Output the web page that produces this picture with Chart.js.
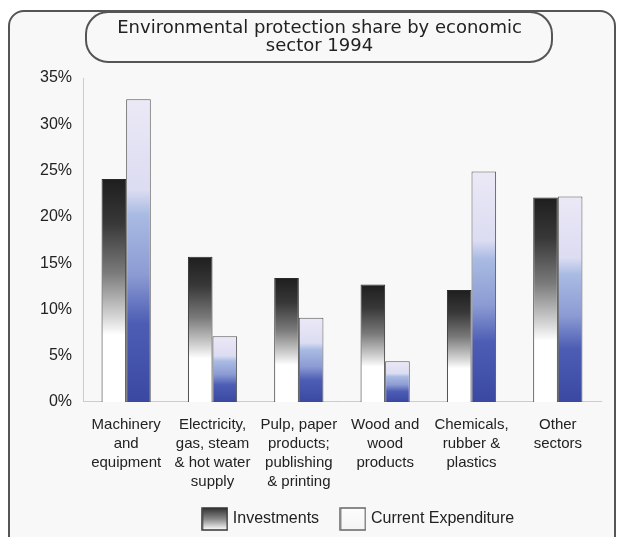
<!DOCTYPE html>
<html><head><meta charset="utf-8">
<script src="https://cdn.jsdelivr.net/npm/chart.js@4/dist/chart.umd.min.js"></script>
<style>
html,body{margin:0;padding:0;background:#fff;width:618px;height:537px;overflow:hidden;}
#frame{position:absolute;left:8px;top:10px;width:604px;height:560px;border:2px solid #555;border-radius:16px;background:#f8f8f8;}
#c{position:absolute;left:0;top:0;}
</style></head>
<body>
<div id="frame"></div>
<canvas id="c" width="618" height="537"></canvas>
<script>
const categories = [
  ["Machinery","and","equipment"],
  ["Electricity,","gas, steam","& hot water","supply"],
  ["Pulp, paper","products;","publishing","& printing"],
  ["Wood and","wood","products"],
  ["Chemicals,","rubber &","plastics"],
  ["Other","sectors"]
];
const investments = [24.1, 15.7, 13.4, 12.7, 12.1, 22.1];
const currentExpenditure = [32.7, 7.1, 9.1, 4.4, 24.9, 22.2];
const yTicks = [0, 5, 10, 15, 20, 25, 30, 35];

const invStops = [[0,'#1e1e1e'],[0.2,'#383838'],[0.42,'#7a7a7a'],[0.62,'#d6d6d6'],[0.7,'#ffffff'],[1,'#ffffff']];
const ceStops = [[0,'#ebe9f6'],[0.3,'#dcdcf2'],[0.38,'#a9bbe3'],[0.58,'#8c9bd3'],[0.74,'#4d5db4'],[1,'#3a48a2']];

function grad(ctx, stops){
  const chart = ctx.chart, y = chart.scales && chart.scales.y;
  if (ctx.type !== 'data' || !y) return stops[2][1];
  const top = y.getPixelForValue(ctx.raw), base = y.getPixelForValue(0);
  if (!isFinite(top) || !isFinite(base) || top === base) return stops[2][1];
  const g = chart.ctx.createLinearGradient(0, top, 0, base);
  stops.forEach(s => g.addColorStop(s[0], s[1]));
  return g;
}
function legendBox(stops, border){
  const cv = document.createElement('canvas'); cv.width = 27; cv.height = 24;
  const c = cv.getContext('2d');
  const g = c.createLinearGradient(0, 1, 0, 23);
  stops.forEach(s => g.addColorStop(s[0], s[1]));
  c.fillStyle = g; c.fillRect(1,1,25,22);
  c.strokeStyle = border; c.lineWidth = 1.5; c.strokeRect(1,1,25,22);
  return cv;
}
const invLegendStops = [[0,'#333'],[0.5,'#888'],[1,'#fff']];
const ceLegendStops = [[0,'#fdfdfd'],[1,'#f4f4f4']];

const titleBox = {
  id:'titleBox',
  afterLayout(chart){
    chart.titleBlock.left += 13; chart.titleBlock.right += 13;
    chart.legend.left += 53; chart.legend.right += 53;
  },
  beforeDraw(chart){
    const c = chart.ctx; c.save();
    c.strokeStyle = '#555'; c.lineWidth = 2;
    c.beginPath(); c.roundRect(86, 12, 466, 50, 22); c.stroke();
    c.restore();
  }
};

new Chart(document.getElementById('c'), {
  type: 'bar',
  data: {
    labels: categories,
    datasets: [
      {label:'Investments', data: investments, backgroundColor: ctx => grad(ctx, invStops),
       borderColor:'#2a2a2a', borderWidth:1, pointStyle: legendBox(invLegendStops,'#333')},
      {label:'Current Expenditure', data: currentExpenditure, backgroundColor: ctx => grad(ctx, ceStops),
       borderColor:'#555', borderWidth:1, pointStyle: legendBox(ceLegendStops,'#666')}
    ]
  },
  options: {
    responsive:false, animation:false,
    categoryPercentage:0.57, barPercentage:1.0,
    layout:{padding:{left:12,right:17,top:0,bottom:0}},
    plugins:{
      title:{display:true, text:['Environmental protection share by economic','sector 1994'],
        font:{family:'DejaVu Sans', size:18, weight:'normal', lineHeight:1.0}, color:'#222',
        padding:{top:19,bottom:23}},
      legend:{position:'bottom', labels:{usePointStyle:true, pointStyleWidth:20, font:{family:'Liberation Sans', size:16}, color:'#222', padding:15, boxHeight:24,
        generateLabels(chart){
          const items = Chart.defaults.plugins.legend.labels.generateLabels(chart);
          items[0].text = items[0].text + '\u00a0\u00a0';
          return items;
        }}},
      tooltip:{enabled:false}
    },
    scales:{
      x:{grid:{display:false}, border:{color:'#ccc'},
         ticks:{font:{family:'Liberation Sans', size:15, lineHeight:1.267}, color:'#222', padding:5, maxRotation:0, autoSkip:false}},
      y:{min:0, max:35, grid:{display:false}, border:{color:'#ccc'},
         afterFit(s){ s.width = 71; },
         afterBuildTicks(s){ s.ticks = yTicks.map(v => ({value:v})); },
         ticks:{font:{family:'Liberation Sans', size:16}, color:'#222', padding:3, callback: v => v + '%'}}
    }
  },
  plugins:[titleBox]
});
</script>
</body></html>
